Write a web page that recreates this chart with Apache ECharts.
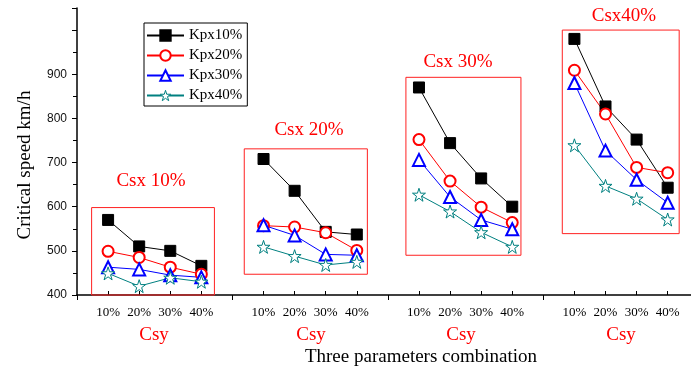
<!DOCTYPE html>
<html>
<head>
<meta charset="utf-8">
<script src="https://cdn.jsdelivr.net/npm/echarts@6/dist/echarts.min.js"></script>
<style>
html,body{margin:0;padding:0;background:#fff;}
#c{width:691px;height:370px;}
</style>
</head>
<body>
<div id="c"></div>
<script>
// ---- data ----
var csyLabels = ['10%', '20%', '30%', '40%'];
var csxGroups = ['Csx 10%', 'Csx 20%', 'Csx 30%', 'Csx40%'];
var seriesNames = ['Kpx10%', 'Kpx20%', 'Kpx30%', 'Kpx40%'];
var kpx10 = [570, 510, 500, 466, 708, 636, 543, 537, 870, 744, 664, 600, 980, 827, 752, 643];
var kpx20 = [499, 485, 463, 447, 557, 554, 541, 501, 752, 658, 599, 564, 909, 810, 689, 677];
var kpx30 = [463, 458, 445, 440, 558, 535, 492, 490, 706, 622, 570, 549, 880, 727, 661, 609];
var kpx40 = [449, 420, 439, 430, 509, 488, 468, 475, 627, 589, 542, 509, 739, 647, 618, 571];
var yTicks = [400, 500, 600, 700, 800, 900];

// each group of four Csy values is followed by one empty slot on the x scale
function pos(i) { return Math.floor(i / 4) * 5 + (i % 4) + 1; }
var positions = kpx10.map(function (v, i) { return pos(i); });
function pairs(arr) {
  var out = [];
  arr.forEach(function (v, i) {
    if (i > 0 && i % 4 === 0) out.push([pos(i) - 1, '-']); // break between groups
    out.push([pos(i), v]);
  });
  return out;
}
function labelFor(x) {
  var idx = positions.indexOf(x);
  return idx < 0 ? '' : csyLabels[idx % 4];
}

var serif = 'Liberation Serif, Times New Roman, serif';
var star = 'path://M50,2 L61,36 L97,36 L68,57 L79,92 L50,71 L21,92 L32,57 L3,36 L39,36 Z';
var colors = ['#000000', '#ff0000', '#0000ff', '#008080'];

var chart = echarts.init(document.getElementById('c'));

function mkSeries(name, data, color, symbol, size, fill) {
  return {
    name: name, type: 'line', data: pairs(data),
    xAxisIndex: 0, yAxisIndex: 0,
    connectNulls: false,
    symbol: symbol, symbolSize: size,
    lineStyle: {color: color, width: 1},
    itemStyle: {color: fill, borderColor: color, borderWidth: 1},
    emphasis: {disabled: true},
    animation: false
  };
}

var s0 = mkSeries(seriesNames[0], kpx10, colors[0], 'rect', 11, colors[0]);
s0.markArea = {
  silent: true,
  itemStyle: {color: 'rgba(0,0,0,0)', borderColor: '#ff2020', borderWidth: 1},
  data: [
    [{coord: [0.47, 400]}, {coord: [4.42, 598]}],
    [{coord: [5.38, 447]}, {coord: [9.34, 731]}],
    [{coord: [10.58, 490]}, {coord: [14.28, 893]}],
    [{coord: [15.61, 539]}, {coord: [19.37, 1000]}]
  ]
};

var redText = {fill: '#ff0000', font: '19px ' + serif, textAlign: 'center', textVerticalAlign: 'middle'};
function txt(t, x, y, extra) {
  var st = Object.assign({}, redText, {text: t}, extra || {});
  return {type: 'text', x: x, y: y, style: st, z: 100};
}

var option = {
  animation: false,
  backgroundColor: '#fff',
  grid: {left: 77, top: 8, right: 0, bottom: 75},
  legend: {
    orient: 'vertical', left: 144, top: 23,
    data: [
      seriesNames[0], seriesNames[1], seriesNames[2],
      {name: seriesNames[3], itemStyle: {color: '#ffffff', borderColor: colors[3], borderWidth: 1}}
    ],
    itemWidth: 37, itemHeight: 13, itemGap: 5,
    padding: [5, 5, 3, 2],
    borderColor: '#000', borderWidth: 1,
    textStyle: {fontFamily: serif, fontSize: 15, lineHeight: 13, color: '#000'}
  },
  xAxis: [
    {
      type: 'value', min: 0, max: 19.75, interval: 5,
      axisLine: {lineStyle: {color: '#000', width: 1.5}},
      axisTick: {show: true, inside: false, length: 5, lineStyle: {color: '#000'}},
      axisLabel: {show: false},
      splitLine: {show: false}
    },
    {
      type: 'value', min: 0, max: 19.75, position: 'bottom',
      axisLine: {show: false},
      axisTick: {show: true, inside: true, length: 4, customValues: positions, lineStyle: {color: '#000'}},
      axisLabel: {
        show: true, customValues: positions, margin: 11,
        fontFamily: serif, fontSize: 13, color: '#000',
        formatter: function (v) { return labelFor(v); }
      },
      splitLine: {show: false}
    }
  ],
  yAxis: {
    type: 'value', min: 400, max: 1050, interval: 100,
    axisLine: {show: true, lineStyle: {color: '#000', width: 1.5}},
    axisTick: {show: true, inside: false, length: 5, lineStyle: {color: '#000'}},
    minorTick: {show: true, splitNumber: 2, length: 4, lineStyle: {color: '#000'}},
    axisLabel: {
      margin: 10, fontFamily: 'Liberation Sans, Arial, sans-serif', fontSize: 12, color: '#111',
      formatter: function (v) { return yTicks.indexOf(v) >= 0 ? String(v) : ''; }
    },
    splitLine: {show: false}
  },
  graphic: [
    txt(csxGroups[0], 151, 181),
    txt(csxGroups[1], 309, 130),
    txt(csxGroups[2], 458, 62),
    txt(csxGroups[3], 624, 16),
    txt('Csy', 154, 335),
    txt('Csy', 311, 335),
    txt('Csy', 461, 335),
    txt('Csy', 621, 335),
    txt('Three parameters combination', 421, 357, {fill: '#000'}),
    {type: 'text', x: 25, y: 165, rotation: Math.PI / 2,
     style: {text: 'Critical speed km/h', fill: '#000', font: '19px ' + serif, textAlign: 'center', textVerticalAlign: 'middle'}, z: 100}
  ],
  series: [
    s0,
    mkSeries(seriesNames[1], kpx20, colors[1], 'emptyCircle', 11, colors[1]),
    mkSeries(seriesNames[2], kpx30, colors[2], 'emptyTriangle', 12, colors[2]),
    mkSeries(seriesNames[3], kpx40, colors[3], star, 13, '#ffffff')
  ]
};
chart.setOption(option);
</script>
</body>
</html>
